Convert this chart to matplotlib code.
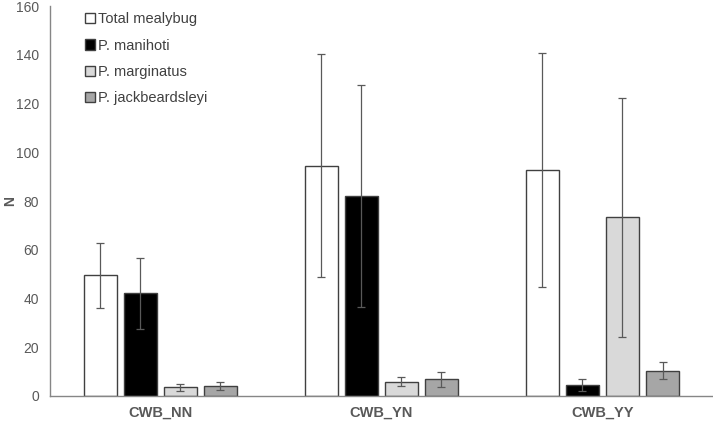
import numpy as np
import matplotlib
matplotlib.use("Agg")
import matplotlib.pyplot as plt

plt.rcParams['font.family'] = ['Liberation Sans', 'DejaVu Sans']

categories = ["CWB_NN", "CWB_YN", "CWB_YY"]
series = ["Total mealybug", "P. manihoti", "P. marginatus", "P. jackbeardsleyi"]
values = [
    [49.6, 94.5, 92.9],
    [42.2, 82.1, 4.4],
    [3.6, 5.9, 73.3],
    [4.0, 6.8, 10.4],
]
errors = [
    [13.3, 45.7, 48.0],
    [14.6, 45.6, 2.4],
    [1.4, 2.0, 49.1],
    [1.7, 3.0, 3.4],
]
colors = ["#ffffff", "#000000", "#d9d9d9", "#a6a6a6"]

fig = plt.figure(figsize=(7.13, 4.21), dpi=100)
ax = fig.add_axes([0.0701, 0.0594, 0.9299, 0.9263])

x = np.arange(len(categories))
width = 0.145
step = 0.181
for i, s in enumerate(series):
    pos = x + (i - 1.5) * step
    ax.bar(pos, values[i], width, color=colors[i], edgecolor="#404040",
           linewidth=1.0, label=s, zorder=2)
    ax.errorbar(pos, values[i], yerr=errors[i], fmt="none", ecolor="#595959",
                elinewidth=0.9, capsize=3, capthick=0.9, zorder=3)

ax.set_xlim(-0.5, 2.5)
ax.set_ylim(0, 160)
ax.set_yticks(np.arange(0, 161, 20))
ax.set_xticks(x)
ax.set_xticklabels(categories, fontsize=10.5, fontweight="bold", color="#595959")
ax.tick_params(axis="y", length=0, labelsize=10, labelcolor="#595959", pad=8)
ax.tick_params(axis="x", length=0, pad=7)
ax.set_ylabel("N", fontsize=10, fontweight="bold", color="#595959")
ax.yaxis.set_label_coords(-0.05, 0.5)

for side in ["top", "right"]:
    ax.spines[side].set_visible(False)
ax.spines["left"].set_color("#868686")
ax.spines["bottom"].set_color("#868686")
ax.spines["left"].set_linewidth(1.0)
ax.spines["bottom"].set_linewidth(1.0)

leg = ax.legend(loc="upper left", bbox_to_anchor=(0.033, 1.018), frameon=False,
                fontsize=10.5, handlelength=0.7, handleheight=0.7,
                handletextpad=0.2, labelspacing=0.85)
for t in leg.get_texts():
    t.set_color("#404040")

fig.savefig("out.png", dpi=100)
